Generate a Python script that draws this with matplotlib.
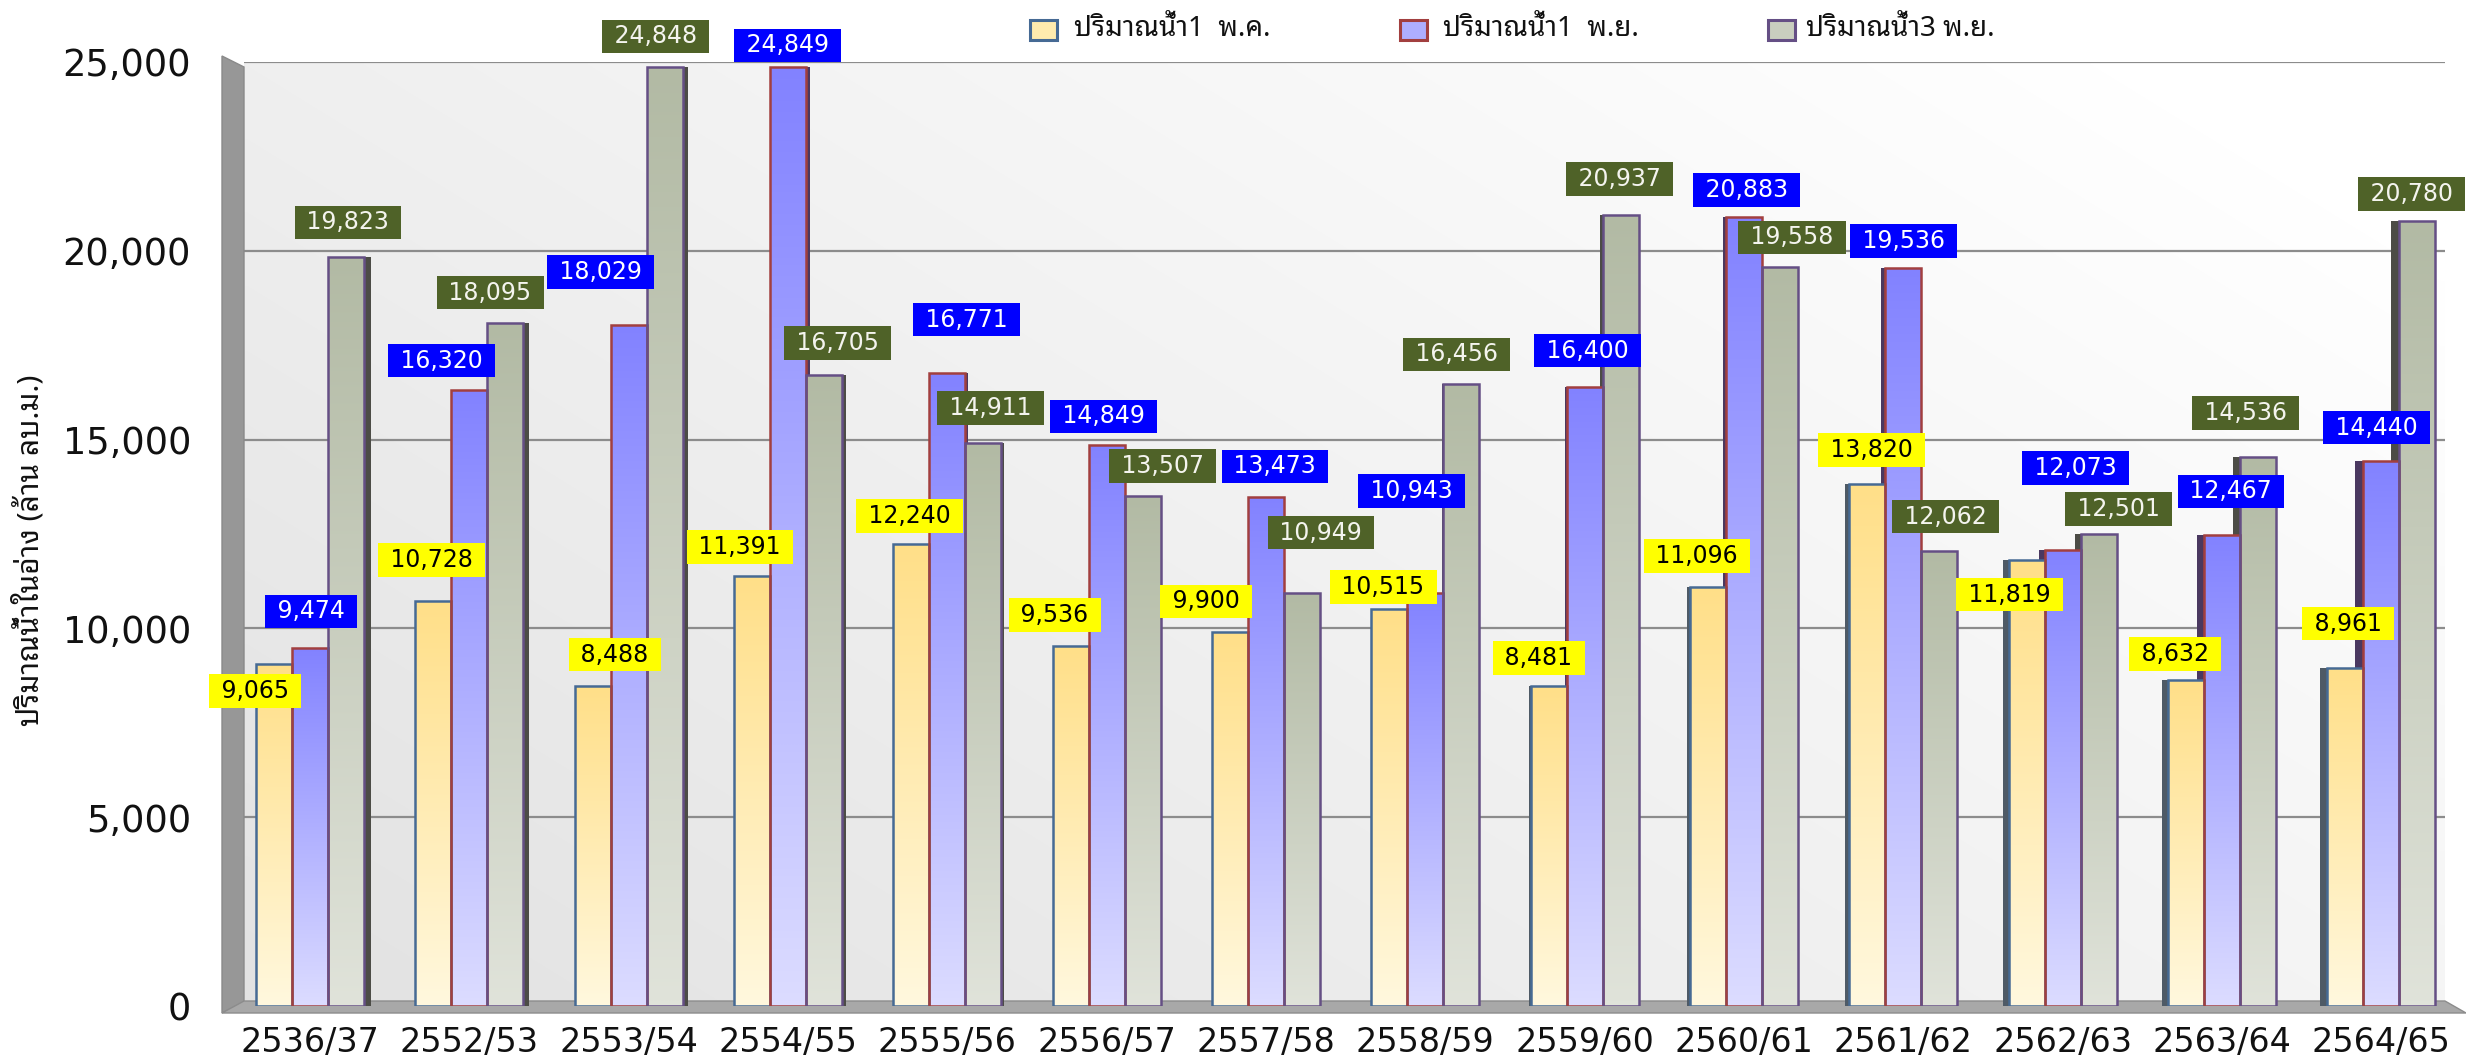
import numpy as np
import matplotlib
matplotlib.use('Agg')
import matplotlib.pyplot as plt
from matplotlib.patches import Rectangle, Polygon
from matplotlib.colors import LinearSegmentedColormap

# ---------------- data ----------------
categories = ['2536/37', '2552/53', '2553/54', '2554/55', '2555/56', '2556/57', '2557/58',
              '2558/59', '2559/60', '2560/61', '2561/62', '2562/63', '2563/64', '2564/65']
water_may1 = [9065, 10728, 8488, 11391, 12240, 9536, 9900, 10515, 8481, 11096, 13820, 11819, 8632, 8961]
water_nov1 = [9474, 16320, 18029, 24849, 16771, 14849, 13473, 10943, 16400, 20883, 19536, 12073, 12467, 14440]
water_nov3 = [19823, 18095, 24848, 16705, 14911, 13507, 10949, 16456, 20937, 19558, 12062, 12501, 14536, 20780]
series_names = ['ปริมาณน้ำ1  พ.ค.', 'ปริมาณน้ำ1  พ.ย.', 'ปริมาณน้ำ3 พ.ย.']
y_label = 'ปริมาณน้ำในอ่าง (ล้าน ลบ.ม.)'
y_ticks = [0, 5000, 10000, 15000, 20000, 25000]

# label offsets (pixels, dx right, dy down) relative to bar top centre
off_may1 = [(-19, 27), (-2, -41), (22, -31), (-12, -29), (-2, -28), (-16, -31), (-24, -31),
            (-6, -22), (-10, -28), (-11, -31), (4, -34), (-17, 35), (-11, -26), (3, -44)]
off_nov1 = [(1, -37), (-28, -29), (-28, -53), (0, -22), (19, -53), (-3, -29), (9, -31),
            (-14, -102), (3, -36), (3, -27), (0, -27), (13, -82), (9, -44), (-5, -33)]
off_nov3 = [(2, -35), (-15, -30), (-9, -31), (14, -32), (7, -35), (20, -30), (19, -60),
            (-5, -30), (-1, -36), (12, -30), (6, -34), (20, -25), (-12, -44), (-6, -27)]

THAI = ['Noto Sans Thai Looped', 'DejaVu Sans']

W, H = 2466, 1058
fig = plt.figure(figsize=(W / 100, H / 100), dpi=100)
fig.patch.set_facecolor('white')


def fx(px):
    return px / W


def fy(py):
    return 1 - py / H


ax_left, ax_right, ax_top, ax_bot = 244, 2445, 61.6, 1006.4
ax = fig.add_axes([fx(ax_left), fy(ax_bot), fx(ax_right) - fx(ax_left), fy(ax_top) - fy(ax_bot)])

# plot-area gradient background
gx, gy = np.meshgrid(np.linspace(0, 1, 300), np.linspace(0, 1, 150))
g = np.clip(0.65 * gx + 0.45 * gy, 0, 1)
bgcmap = LinearSegmentedColormap.from_list('bg', ['#E2E2E2', '#FFFFFF'])
ax.imshow(g, extent=(0, 1, 0, 1), transform=ax.transAxes, origin='lower', cmap=bgcmap,
          aspect='auto', zorder=0, interpolation='bilinear')

n = len(categories)
x = np.arange(n)
bw = 36 / 159.3
xlim = (-0.414, 13.40)

# left wall and floor (figure pixel geometry)
wall = Polygon([(fx(222), fy(56)), (fx(244), fy(67)), (fx(244), fy(1002)), (fx(222), fy(1013))],
               closed=True, transform=fig.transFigure, facecolor='#979797', edgecolor='#8A8A8A',
               lw=1, clip_on=False, zorder=1)
ax.add_patch(wall)
floor = Polygon([(fx(222), fy(1013)), (fx(244), fy(1001)), (fx(2445), fy(1001)), (fx(2466), fy(1013))],
                closed=True, transform=fig.transFigure, facecolor='#A8A8A8', edgecolor='#8C8C8C',
                lw=1, clip_on=False, zorder=1)
ax.add_patch(floor)
# wall grid ticks
for t in y_ticks[1:]:
    yy = ax.transData.transform((0, t))[1]
    ypx = H - yy
    ax.add_line(plt.Line2D([fx(222), fx(244)], [fy(ypx - 5), fy(ypx + 4)], transform=fig.transFigure,
                           color='#7E7E7E', lw=1.2, clip_on=False, zorder=1.5))

series = [water_may1, water_nov1, water_nov3]
offsets = [off_may1, off_nov1, off_nov3]
grad_cols = [('#FFF8DE', '#FFDF88'), ('#DCDCFF', '#8282FF'), ('#E0E3DA', '#B2BAA4')]
edge_cols = ['#466A94', '#A23F3F', '#654F85']
side_cols = ['#4E5A66', '#4A3860', '#4C4C46']
box_cols = ['#FFFF00', '#0000FF', '#4F6228']
txt_cols = ['#000000', '#FFFFFF', '#F4F4EE']

center = 6.4
grad = np.linspace(0, 1, 256).reshape(-1, 1)
for s, vals in enumerate(series):
    xs = x + (s - 1) * bw
    # side faces (3D depth)
    sw = 0.0075 * np.abs(xs - center)
    side_x = np.where(xs < center, xs + bw / 2, xs - bw / 2 - sw)
    ax.bar(side_x, vals, width=sw, align='edge', color=side_cols[s], edgecolor='none', zorder=2)
    # fronts
    bars = ax.bar(xs, vals, width=bw, facecolor='none', edgecolor=edge_cols[s], linewidth=1.8, zorder=4)
    cm = LinearSegmentedColormap.from_list('c%d' % s, list(grad_cols[s]))
    for rect in bars:
        x0, w, h = rect.get_x(), rect.get_width(), rect.get_height()
        im = ax.imshow(grad, extent=(x0, x0 + w, 0, h), origin='lower', cmap=cm, aspect='auto',
                       zorder=3, interpolation='bilinear')
        im.set_clip_path(rect)
    for i, v in enumerate(vals):
        dx, dy = offsets[s][i]
        ax.annotate(' {:,} '.format(v), xy=(xs[i], v), xytext=(dx, -dy), textcoords='offset pixels',
                    ha='center', va='center', fontsize=17, color=txt_cols[s], family='DejaVu Sans',
                    bbox=dict(boxstyle='square,pad=0.2', fc=box_cols[s], ec='none'),
                    zorder=6, annotation_clip=False)

ax.set_xlim(*xlim)
ax.set_ylim(0, 25000)
ax.set_yticks(y_ticks)
ax.set_yticklabels(['{:,}'.format(t) for t in y_ticks])
ax.set_xticks(x)
ax.set_xticklabels(categories)
ax.yaxis.grid(True, color='#8C8C8C', linewidth=1.6)
ax.set_axisbelow(True)
for sp in ax.spines.values():
    sp.set_visible(False)
ax.tick_params(axis='y', length=0, pad=38, labelsize=26.5, labelcolor='#111111')
ax.tick_params(axis='x', length=0, pad=14, labelsize=24, labelcolor='#111111')

# y-axis label
fig.text(fx(29), fy(550), y_label, rotation=90, ha='center', va='center', fontsize=21.5,
         family=THAI, color='#111111')

# legend (manual, top centre)
leg_sq_x = [1030, 1400, 1768]
leg_tx_x = [1074, 1443, 1806]
leg_fill = ['#FFEBAE', '#AEAEFF', '#C9CEBF']
for s in range(3):
    fig.add_artist(Rectangle((fx(leg_sq_x[s]), fy(40)), 27 / W, 20 / H, transform=fig.transFigure,
                             facecolor=leg_fill[s], edgecolor=edge_cols[s], lw=2.2))
    fig.text(fx(leg_tx_x[s]), fy(29), series_names[s], ha='left', va='center', fontsize=20,
             family=THAI, color='#111111')

fig.savefig('out.png', dpi=100, facecolor='white')
